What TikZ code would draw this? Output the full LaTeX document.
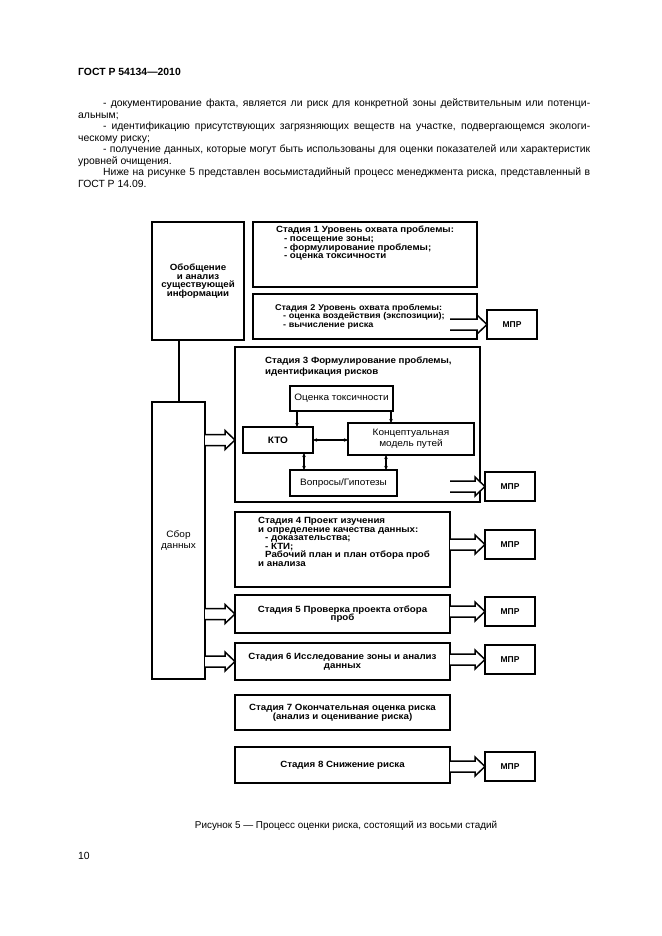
\documentclass[tikz,border=0pt]{standalone}
\usepackage{fontspec}
\setmainfont{Liberation Sans}
\newfontfamily\widefont[FakeStretch=1.08]{Liberation Sans}
\usetikzlibrary{arrows.meta,positioning,calc}

\newcommand\bodytxt{\fontsize{10.4}{11.5}\selectfont}
\newcommand\boldtxt{\widefont\fontsize{9}{8.6}\selectfont\bfseries}
\newcommand\plaintxt{\widefont\fontsize{9.3}{11.5}\selectfont}

\begin{document}
\begin{tikzpicture}[x=1pt, y=-1pt,
    stage/.style={
        draw,
        line width=2pt,
        fill=white,
        outer sep=0pt,
        inner sep=2pt,
        anchor=north west,
        align=center,
        font=\boldtxt
    },
    stagetxt/.style={align=left, inner sep=0pt, font=\boldtxt},
    subbox/.style={draw, line width=1.6pt, outer sep=0pt, inner sep=1pt,
        anchor=north west, align=center, font=\plaintxt},
    mpr/.style={stage, minimum width=50pt, minimum height=29pt,
        font=\fontsize{8.5}{10}\selectfont\bfseries},
    hollow/.style={line width=1.5pt, fill=white, to path={
        let \p1=(\tikztostart), \p2=(\tikztotarget) in
        (\x1,\y1+5.5pt) -- (\x2-10pt,\y1+5.5pt) -- (\x2-10pt,\y1+9.5pt) -- (\x2,\y1)
        -- (\x2-10pt,\y1-9.5pt) -- (\x2-10pt,\y1-5.5pt) -- (\x1,\y1-5.5pt)}},
    link/.style={line width=1.2pt, -{Stealth[length=4pt, width=3.5pt]}},
    duplex/.style={link, {Stealth[length=4pt, width=3.5pt]}-{Stealth[length=4pt, width=3.5pt]}}
]
\useasboundingbox (0,0) rectangle (661,936);

% page text
\node[anchor=base west, inner sep=0pt, font=\bodytxt\bfseries] (head) at (78,76) {ГОСТ Р 54134—2010};
\node[anchor=north west, inner sep=0pt, text width=512pt, align=justify, font=\bodytxt] (intro) at (78,99) {%
\hspace*{25pt}- документирование факта, является ли риск для конкретной зоны действительным или потенци-\linebreak альным;\par
\hspace*{25pt}- идентификацию присутствующих загрязняющих веществ на участке, подвергающемся экологи-\linebreak ческому риску;\par
\hspace*{25pt}- получение данных, которые могут быть использованы для оценки показателей или характеристик\linebreak уровней очищения.\par
\hspace*{25pt}Ниже на рисунке 5 представлен восьмистадийный процесс менеджмента риска, представленный в\linebreak ГОСТ Р 14.09.};

% left column
\node[stage, minimum width=92pt, minimum height=118pt] (info) at (152,222) {Обобщение\\и анализ\\существующей\\информации};
\node[stage, minimum width=53pt, minimum height=277pt, font=\plaintxt] (sbor) at (152,402) {Сбор\\данных};
\draw[line width=2pt] (sbor.north) -- (sbor.north |- info.south);

% stages 1 and 2
\node[stage, minimum width=224pt, minimum height=65pt] (st1) at (253,222) {};
\node[stagetxt, below=4pt of st1.north] (st1txt) {Стадия 1 Уровень охвата проблемы:\\
\hspace*{8pt}- посещение зоны;\\
\hspace*{8pt}- формулирование проблемы;\\
\hspace*{8pt}- оценка токсичности};
\node[stage, minimum width=224pt, minimum height=45pt, text width=180pt, align=left,
    font=\widefont\fontsize{8.4}{8.6}\selectfont\bfseries] (st2) at (253,294) {Стадия 2 Уровень охвата проблемы:\\
\hspace*{8pt}- оценка воздействия (экспозиции);\\
\hspace*{8pt}- вычисление риска};

% stage 3
\node[stage, minimum width=245pt, minimum height=155pt] (st3) at (235,347) {};
\node[stagetxt, anchor=north west, font=\widefont\fontsize{9}{10.5}\selectfont\bfseries] (st3txt) at (265,357) {Стадия 3 Формулирование проблемы,\\идентификация рисков};
\node[subbox, minimum width=103pt, minimum height=25pt] (tox) at (290,386) {Оценка токсичности};
\node[subbox, minimum width=70pt, minimum height=26pt, font=\plaintxt\bfseries] (kto) at (243,427) {КТО};
\node[subbox, minimum width=126pt, minimum height=32pt] (model) at (348,423) {Концептуальная\\модель путей};
\node[subbox, minimum width=107pt, minimum height=26pt] (quest) at (290,470) {Вопросы/Гипотезы};

\draw[link] ([xshift=7pt]tox.south west) -- ([xshift=7pt]tox.south west |- kto.north);
\draw[link] ([xshift=-2pt]tox.south east) -- ([xshift=-2pt]tox.south east |- model.north);
\draw[duplex] (kto.east) -- (kto.east -| model.west);
\draw[duplex] ([xshift=-9pt]kto.south east) -- ([xshift=-9pt]kto.south east |- quest.north);
\draw[duplex] ([xshift=-11pt]quest.north east) -- ([xshift=-11pt]quest.north east |- model.south);

% stages 4 to 8
\node[stage, minimum width=215pt, minimum height=75pt] (st4) at (235,512) {};
\node[stagetxt, anchor=north west] (st4txt) at (258,517) {Стадия 4 Проект изучения\\
и определение качества данных:\\
\hspace*{7pt}- доказательства;\\
\hspace*{7pt}- КТИ;\\
\hspace*{7pt}Рабочий план и план отбора проб\\
и анализа};
\node[stage, minimum width=215pt, minimum height=38pt] (st5) at (235,595) {Стадия 5 Проверка проекта отбора\\проб};
\node[stage, minimum width=215pt, minimum height=37pt] (st6) at (235,643) {Стадия 6 Исследование зоны и анализ\\данных};
\node[stage, minimum width=215pt, minimum height=35pt] (st7) at (235,695) {Стадия 7 Окончательная оценка риска\\(анализ и оценивание риска)};
\node[stage, minimum width=215pt, minimum height=36pt] (st8) at (235,747) {Стадия 8 Снижение риска};

% data collection feeds
\draw[hollow] (sbor.east |- kto) to (st3.west |- kto);
\draw[hollow] (sbor.east |- st5) to (st5.west);
\draw[hollow] (sbor.east |- st6) to (st6.west);

% MPR outputs
\node[mpr] (m2) at (487,310) {МПР};
\node[mpr] (m3) at (485,472) {МПР};
\node[mpr] (m4) at (485,530) {МПР};
\node[mpr] (m5) at (485,597) {МПР};
\node[mpr] (m6) at (485,645) {МПР};
\node[mpr] (m8) at (485,752) {МПР};
\draw[hollow] (st4.east |- m2) to (m2.west);
\draw[hollow] (st4.east |- m3) to (m3.west);
\draw[hollow] (st4.east |- m4) to (m4.west);
\draw[hollow] (st4.east |- m5) to (m5.west);
\draw[hollow] (st4.east |- m6) to (m6.west);
\draw[hollow] (st4.east |- m8) to (m8.west);

% caption
\node[font=\fontsize{9.9}{11}\selectfont] (caption) at (346,826) {Рисунок 5 — Процесс оценки риска, состоящий из восьми стадий};
\node[anchor=base west, inner sep=0pt, font=\bodytxt] (page) at (78,859) {10};

\end{tikzpicture}
\end{document}
